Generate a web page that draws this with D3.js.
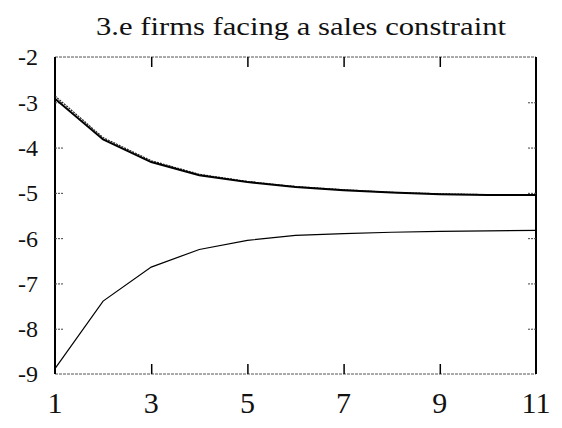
<!DOCTYPE html>
<html>
<head>
<meta charset="utf-8">
<title>3.e firms facing a sales constraint</title>
<script src="https://cdn.jsdelivr.net/npm/d3@7"></script>
<style>
  html, body { margin: 0; padding: 0; background: #fff; }
  text { font-family: "Liberation Serif", "DejaVu Serif", serif; fill: #111; }
</style>
</head>
<body>
<svg id="chart" width="562" height="428"></svg>
<script>
// data
var periods = [1, 2, 3, 4, 5, 6, 7, 8, 9, 10, 11];
var upperSolid = [-2.92, -3.82, -4.32, -4.61, -4.76, -4.87, -4.94, -4.99, -5.03, -5.05, -5.05];
var upperDotted = [-2.86, -3.78, -4.29, -4.59, -4.75, -4.86, -4.93, -4.99, -5.02, -5.04, -5.05];
var lower = [-8.88, -7.39, -6.64, -6.25, -6.05, -5.94, -5.90, -5.87, -5.85, -5.84, -5.83];
var xTicks = [1, 3, 5, 7, 9, 11];
var yTicks = [-2, -3, -4, -5, -6, -7, -8, -9];
var title = "3.e firms facing a sales constraint";

var svg = d3.select('#chart');
var m = {left: 55, right: 536, top: 57, bottom: 374};

var x = d3.scaleLinear().domain([1, 11]).range([m.left, m.right]);
var y = d3.scaleLinear().domain([-2, -9]).range([m.top, m.bottom]);

svg.append('text')
  .attr('x', 301).attr('y', 35)
  .attr('text-anchor', 'middle')
  .attr('font-size', 26)
  .attr('textLength', 410)
  .attr('lengthAdjust', 'spacingAndGlyphs')
  .text(title);

// frame: solid sides, faint dotted top and bottom
svg.append('line').attr('x1', m.left).attr('x2', m.right).attr('y1', m.top).attr('y2', m.top)
  .attr('stroke', '#555').attr('stroke-width', 1).attr('stroke-dasharray', '3,1');
svg.append('line').attr('x1', m.left).attr('x2', m.right).attr('y1', m.bottom).attr('y2', m.bottom)
  .attr('stroke', '#555').attr('stroke-width', 1).attr('stroke-dasharray', '3,1');
svg.append('line').attr('x1', m.left).attr('x2', m.left).attr('y1', m.top).attr('y2', m.bottom)
  .attr('stroke', '#000').attr('stroke-width', 2);
svg.append('line').attr('x1', m.right).attr('x2', m.right).attr('y1', m.top).attr('y2', m.bottom)
  .attr('stroke', '#000').attr('stroke-width', 2);

// axes with inward ticks, on all four sides
var inner = xTicks.slice(1, -1);
svg.append('g').attr('transform', 'translate(0,' + m.top + ')')
  .call(d3.axisBottom(x).tickValues(inner).tickSize(10).tickFormat(''))
  .call(function (g) { g.select('.domain').remove(); g.selectAll('line').attr('stroke', '#000').attr('stroke-width', 1.5); });
svg.append('g').attr('transform', 'translate(0,' + m.bottom + ')')
  .call(d3.axisTop(x).tickValues(inner).tickSize(10).tickFormat(''))
  .call(function (g) { g.select('.domain').remove(); g.selectAll('line').attr('stroke', '#000').attr('stroke-width', 1.5); });
svg.append('g').attr('transform', 'translate(' + m.left + ',0)')
  .call(d3.axisRight(y).tickValues(yTicks.slice(1, -1)).tickSize(9).tickFormat(''))
  .call(function (g) { g.select('.domain').remove(); g.selectAll('line').attr('stroke', '#444').attr('stroke-dasharray', '2,1'); });
svg.append('g').attr('transform', 'translate(' + m.right + ',0)')
  .call(d3.axisLeft(y).tickValues(yTicks.slice(1, -1)).tickSize(9).tickFormat(''))
  .call(function (g) { g.select('.domain').remove(); g.selectAll('line').attr('stroke', '#444').attr('stroke-dasharray', '2,1'); });

// tick labels
svg.append('g').selectAll('text').data(yTicks).enter().append('text')
  .attr('x', 38).attr('y', function (d) { return y(d); })
  .attr('dy', '0.35em')
  .attr('text-anchor', 'end')
  .attr('font-size', 24)
  .text(function (d) { return d; });
svg.append('g').selectAll('text').data(xTicks).enter().append('text')
  .attr('x', function (d) { return x(d); }).attr('y', 413)
  .attr('text-anchor', 'middle')
  .attr('font-size', 30)
  .text(function (d) { return d; });

var line = d3.line()
  .x(function (d, i) { return x(periods[i]); })
  .y(function (d) { return y(d); });

svg.append('path').datum(upperDotted).attr('d', line)
  .attr('fill', 'none').attr('stroke', '#222').attr('stroke-width', 1.2).attr('stroke-dasharray', '2,1');
svg.append('path').datum(upperSolid).attr('d', line)
  .attr('fill', 'none').attr('stroke', '#000').attr('stroke-width', 2);
svg.append('path').datum(lower).attr('d', line)
  .attr('fill', 'none').attr('stroke', '#000').attr('stroke-width', 1.2);
</script>
</body>
</html>
